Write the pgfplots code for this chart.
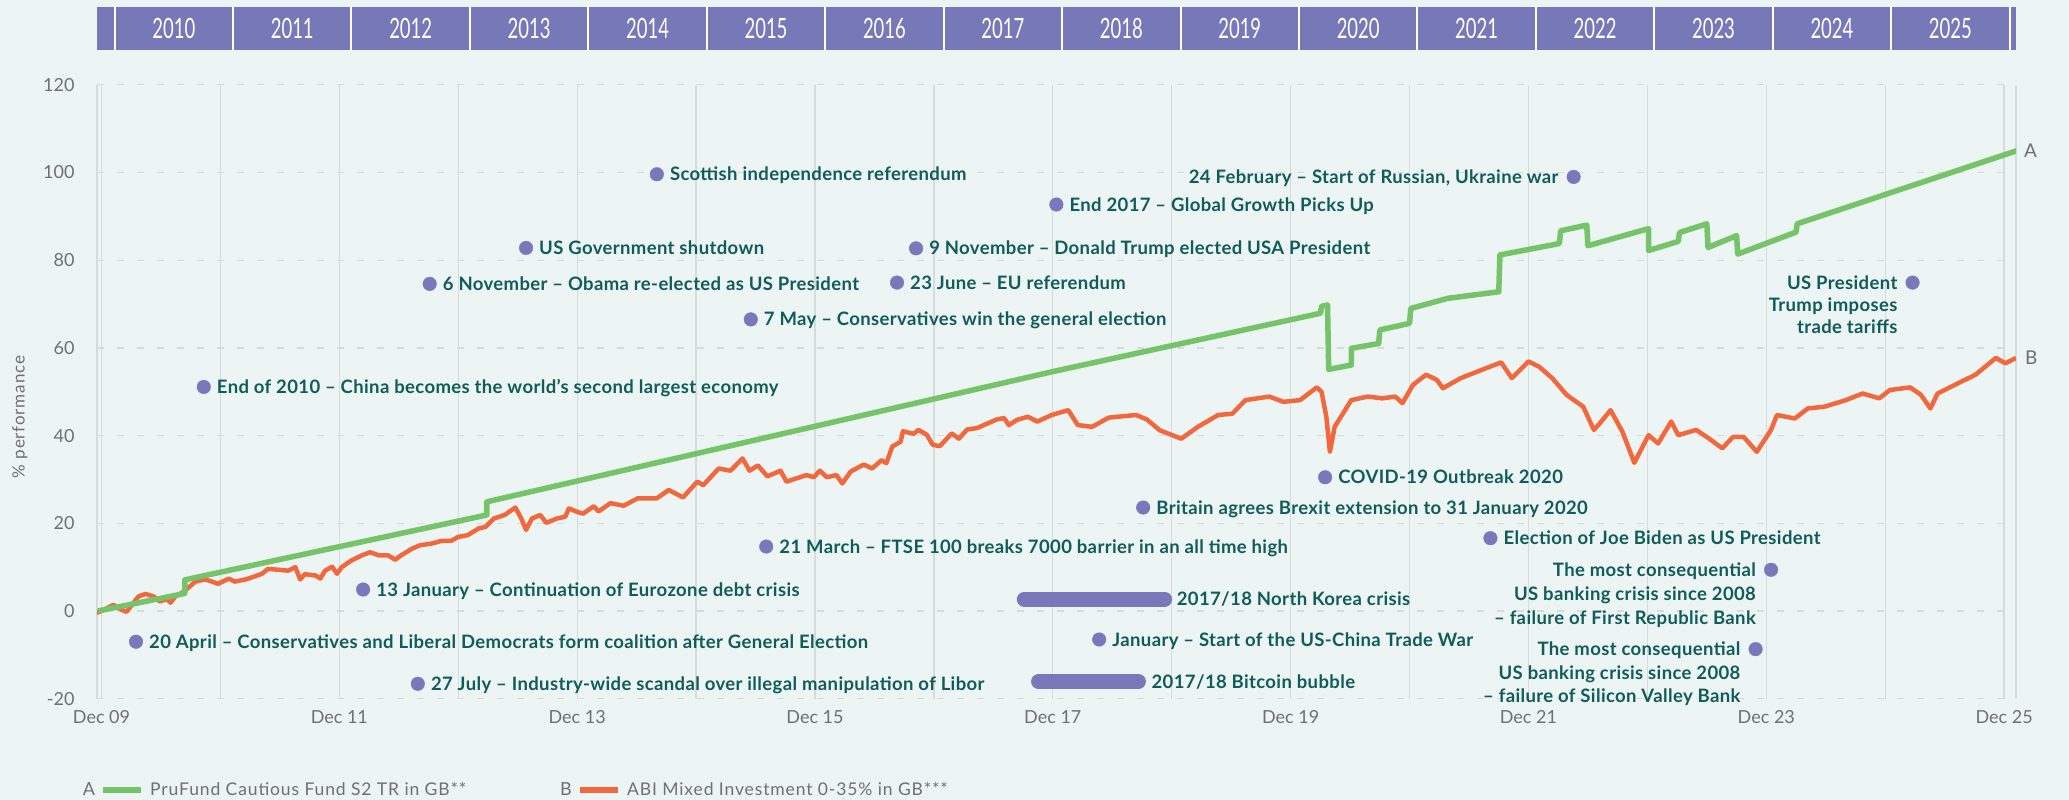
\documentclass[border=0pt]{standalone}
\usepackage{pgfplots}
\pgfplotsset{compat=1.18}
\usepackage{fontspec}
\setmainfont{Lato}
\newfontfamily\yearfont{Lato}[FakeStretch=0.66]
\newfontfamily\softfont{Lato}[LetterSpace=5]
\newfontfamily\annfont{Lato}[LetterSpace=2]

\definecolor{bg}{RGB}{236,245,243}
\definecolor{band}{RGB}{118,120,184}
\definecolor{dotc}{RGB}{120,120,186}
\definecolor{ann}{RGB}{16,92,90}
\definecolor{pfgreen}{RGB}{118,196,106}
\definecolor{abiorange}{RGB}{242,104,62}
\definecolor{gridc}{RGB}{214,219,219}
\definecolor{tickc}{RGB}{112,112,112}

% x = years since Dec 2009
\pgfplotstableread{
t v
-0.04 -0.4
0.00 0.0
0.10 1.4
0.16 0.4
0.21 -0.2
0.31 3.3
0.37 3.9
0.44 3.3
0.49 2.2
0.55 2.7
0.58 1.9
0.62 3.3
0.69 4.4
0.79 6.7
0.87 7.2
0.93 6.7
0.98 6.2
1.07 7.4
1.12 6.7
1.21 7.2
1.28 7.8
1.35 8.5
1.40 9.6
1.49 9.4
1.57 9.2
1.63 10.0
1.67 7.2
1.71 8.4
1.80 8.1
1.84 7.4
1.88 9.2
1.94 10.1
1.98 8.5
2.02 10.0
2.10 11.5
2.19 12.7
2.26 13.4
2.33 12.7
2.41 12.7
2.47 11.7
2.52 12.7
2.61 14.2
2.68 15.0
2.78 15.4
2.86 16.0
2.94 16.0
3.00 16.9
3.08 17.3
3.17 18.8
3.23 19.2
3.30 21.1
3.39 21.9
3.48 23.6
3.53 21.1
3.57 18.5
3.62 21.1
3.69 21.9
3.74 20.1
3.83 21.1
3.90 21.5
3.93 23.4
4.00 22.6
4.05 22.2
4.14 23.9
4.18 22.7
4.28 24.6
4.39 24.0
4.51 25.7
4.67 25.7
4.77 27.6
4.89 25.9
5.01 29.5
5.06 28.7
5.19 32.5
5.29 32.0
5.39 34.8
5.45 32.0
5.52 33.2
5.60 30.7
5.71 32.0
5.76 29.5
5.85 30.3
5.93 31.0
5.99 30.5
6.04 32.0
6.10 30.5
6.18 31.0
6.23 29.1
6.30 31.8
6.41 33.4
6.48 32.5
6.56 34.4
6.60 33.7
6.65 37.5
6.72 38.6
6.74 41.0
6.83 40.4
6.87 41.3
6.94 40.2
6.99 37.9
7.05 37.6
7.15 40.5
7.21 39.3
7.28 41.4
7.36 41.7
7.42 42.4
7.53 43.7
7.59 44.0
7.63 42.4
7.70 43.6
7.79 44.3
7.87 43.2
7.99 44.7
8.13 45.8
8.21 42.4
8.33 42.0
8.47 44.1
8.70 44.7
8.79 43.7
8.90 41.2
9.08 39.3
9.22 42.0
9.39 44.7
9.51 45.0
9.62 48.1
9.82 48.9
9.94 47.7
10.08 48.1
10.22 51.0
10.26 50.0
10.30 44.3
10.33 36.3
10.37 42.0
10.51 48.1
10.65 48.9
10.77 48.5
10.88 48.9
10.94 47.4
11.03 51.6
11.14 53.9
11.23 52.7
11.28 50.8
11.43 53.1
11.57 54.6
11.77 56.7
11.86 53.1
12.00 56.9
12.09 55.7
12.20 53.1
12.32 49.3
12.46 46.6
12.55 41.3
12.60 42.8
12.69 45.8
12.79 40.9
12.89 33.8
13.01 40.1
13.09 38.2
13.20 43.2
13.26 40.1
13.41 41.3
13.52 39.3
13.63 37.1
13.72 39.7
13.81 39.7
13.92 36.3
14.04 41.3
14.09 44.7
14.24 43.9
14.35 46.2
14.49 46.6
14.67 48.1
14.81 49.6
14.95 48.5
15.04 50.4
15.21 51.0
15.30 49.3
15.38 46.2
15.44 49.6
15.58 51.5
15.76 53.9
15.93 57.7
16.01 56.5
16.10 57.7
}\abi

\pgfplotstableread{
t v
-0.03 0.0
0.70 4.0
0.70 7.1
3.24 21.9
3.24 24.9
8.00 54.6
10.25 67.9
10.26 69.5
10.31 69.8
10.32 55.1
10.51 56.1
10.51 59.9
10.74 61.0
10.75 64.1
11.00 65.6
11.01 69.0
11.32 71.3
11.75 72.8
11.76 81.2
12.26 83.8
12.27 86.7
12.49 88.0
12.50 83.3
13.01 87.2
13.01 82.2
13.26 84.3
13.27 86.3
13.50 88.3
13.51 82.9
13.75 85.6
13.76 81.4
14.25 86.4
14.26 88.3
16.11 105.0
}\prufund

\tikzset{
  annR/.style={font=\annfont\fontsize{18.5}{22}\selectfont\bfseries, text=ann, inner sep=0pt, anchor=base west, xshift=13pt, yshift=-6.5pt},
  annL/.style={font=\annfont\fontsize{18.5}{22}\selectfont\bfseries, text=ann, inner sep=0pt, anchor=base east, xshift=-15pt, yshift=-6.5pt},
}

\begin{document}
\begin{tikzpicture}
\useasboundingbox (0,0) rectangle (2069pt,-800pt);
\fill[bg] (0,0) rectangle (2069pt,-800pt);

% year band
\begin{axis}[at={(97pt,-50pt)}, anchor=south west, scale only axis,
  width=1919pt, height=43pt, xmin=-0.038, xmax=16.10, ymin=0, ymax=1,
  hide axis, clip mode=individual]
\addplot[fill=band, draw=none] coordinates {(-0.038,0) (16.10,0) (16.10,1) (-0.038,1)} -- cycle;
\addplot[ycomb, draw=white, line width=2pt, mark=none] coordinates {
 (0.110,1) (1.106,1) (2.102,1) (3.098,1) (4.094,1) (5.090,1) (6.086,1) (7.082,1) (8.078,1)
 (9.074,1) (10.070,1) (11.066,1) (12.062,1) (13.058,1) (14.054,1) (15.050,1) (16.046,1)};
\pgfplotsinvokeforeach{0,...,15}{
  \node[text=white, font=\yearfont\fontsize{28}{30}\selectfont] at (axis cs:{0.608+0.996*#1},0.5) {\the\numexpr2010+#1\relax};
}
\end{axis}

% main chart
\begin{axis}[at={(97pt,-698.7pt)}, anchor=south west, scale only axis,
  width=1919pt, height=613.9pt,
  xmin=-0.038, xmax=16.10, ymin=-20, ymax=120,
  clip mode=individual,
  xtick={0,1,...,16},
  xticklabels={Dec 09,,Dec 11,,Dec 13,,Dec 15,,Dec 17,,Dec 19,,Dec 21,,Dec 23,,Dec 25},
  ytick={-20,0,20,40,60,80,100,120},
  yticklabels={-20,0,20,40,60,80,100,120},
  major tick length=0pt,
  grid=major,
  x grid style={gridc, line width=1.3pt},
  y grid style={gridc, line width=1.3pt, dash pattern=on 7pt off 13pt},
  separate axis lines,
  x axis line style={draw=none},
  y axis line style={draw=gridc, line width=1.3pt},
  extra y ticks={0}, extra y tick labels={},
  extra y tick style={grid=major, major grid style={draw=gridc!85!black, line width=2pt, solid}},
  tick label style={font=\fontsize{18}{20}\selectfont, text=tickc},
  xticklabel style={yshift=-8.6pt},
  yticklabel style={xshift=-19pt},
  line join=round,
]
\addplot[abiorange, line width=4.5pt, mark=none] table[x=t, y=v] {\abi};
\addplot[pfgreen, line width=5.5pt, mark=none] table[x=t, y=v] {\prufund};

% event bars
\addplot[dotc, line width=15pt, line cap=round, mark=none] coordinates {(7.76,2.7) (8.94,2.7)};
\addplot[dotc, line width=15pt, line cap=round, mark=none] coordinates {(7.88,-16.1) (8.72,-16.1)};

% event dots
\addplot[only marks, mark=*, mark size=6.8pt, color=dotc] coordinates {
 (0.86,51.1) (0.29,-7.0) (2.66,-16.6) (2.20,4.9) (2.76,74.6) (3.57,82.8)
 (4.67,99.6) (5.46,66.5) (6.69,74.9) (6.85,82.7) (8.03,92.7) (12.38,99.0)
 (15.23,74.9) (10.29,30.5) (8.76,23.6) (11.68,16.6) (5.59,14.7)
 (14.04,9.4) (13.91,-8.7) (8.39,-6.5)};

\node[annR] at (axis cs:0.86,51.1) {End of 2010 – China becomes the world’s second largest economy};
\node[annR] at (axis cs:0.29,-7.0) {20 April – Conservatives and Liberal Democrats form coalition after General Election};
\node[annR] at (axis cs:2.66,-16.6) {27 July – Industry-wide scandal over illegal manipulation of Libor};
\node[annR] at (axis cs:2.20,4.9) {13 January – Continuation of Eurozone debt crisis};
\node[annR] at (axis cs:2.76,74.6) {6 November – Obama re-elected as US President};
\node[annR] at (axis cs:3.57,82.8) {US Government shutdown};
\node[annR] at (axis cs:4.67,99.6) {Scottish independence referendum};
\node[annR] at (axis cs:5.46,66.5) {7 May – Conservatives win the general election};
\node[annR] at (axis cs:6.69,74.9) {23 June – EU referendum};
\node[annR] at (axis cs:6.85,82.7) {9 November – Donald Trump elected USA President};
\node[annR] at (axis cs:8.03,92.7) {End 2017 – Global Growth Picks Up};
\node[annL] at (axis cs:12.38,99.0) {24 February – Start of Russian, Ukraine war};
\node[annL] at (axis cs:15.23,74.9) {US President};
\node[annL, yshift=-22pt] at (axis cs:15.23,74.9) {Trump imposes};
\node[annL, yshift=-44pt] at (axis cs:15.23,74.9) {trade tariffs};
\node[annR] at (axis cs:10.29,30.5) {COVID-19 Outbreak 2020};
\node[annR] at (axis cs:8.76,23.6) {Britain agrees Brexit extension to 31 January 2020};
\node[annR] at (axis cs:11.68,16.6) {Election of Joe Biden as US President};
\node[annR] at (axis cs:5.59,14.7) {21 March – FTSE 100 breaks 7000 barrier in an all time high};
\node[annL] at (axis cs:14.04,9.4) {The most consequential};
\node[annL, yshift=-24pt] at (axis cs:14.04,9.4) {US banking crisis since 2008};
\node[annL, yshift=-48pt] at (axis cs:14.04,9.4) {– failure of First Republic Bank};
\node[annL] at (axis cs:13.91,-8.7) {The most consequential};
\node[annL, yshift=-23.5pt] at (axis cs:13.91,-8.7) {US banking crisis since 2008};
\node[annL, yshift=-47pt] at (axis cs:13.91,-8.7) {– failure of Silicon Valley Bank};
\node[annR, xshift=-1pt] at (axis cs:8.94,2.7) {2017/18 North Korea crisis};
\node[annR] at (axis cs:8.72,-16.1) {2017/18 Bitcoin bubble};
\node[annR] at (axis cs:8.39,-6.5) {January – Start of the US-China Trade War};

% series end labels
\node[anchor=west, inner sep=0pt, xshift=8pt, text=tickc, font=\fontsize{19}{20}\selectfont] at (axis cs:16.10,105.0) {A};
\node[anchor=west, inner sep=0pt, xshift=9pt, text=tickc, font=\fontsize{19}{20}\selectfont] at (axis cs:16.10,57.7) {B};
\end{axis}

% y label
\node[rotate=90, text=tickc, font=\softfont\fontsize{17}{20}\selectfont] at (20pt,-417pt) {\% performance};

% legend
\node[anchor=base, text=tickc, inner sep=0pt, font=\fontsize{18}{20}\selectfont] at (89pt,-795pt) {A};
\fill[pfgreen] (103pt,-786.5pt) rectangle (141pt,-792.5pt);
\node[anchor=base west, text=tickc, inner sep=0pt, font=\softfont\fontsize{17.5}{20}\selectfont] at (150pt,-795pt) {PruFund Cautious Fund S2 TR in GB**};
\node[anchor=base, text=tickc, inner sep=0pt, font=\fontsize{18}{20}\selectfont] at (566pt,-795pt) {B};
\fill[abiorange] (580pt,-786.5pt) rectangle (618pt,-792.5pt);
\node[anchor=base west, text=tickc, inner sep=0pt, font=\softfont\fontsize{17.5}{20}\selectfont] at (627pt,-795pt) {ABI Mixed Investment 0-35\% in GB***};
\end{tikzpicture}
\end{document}
